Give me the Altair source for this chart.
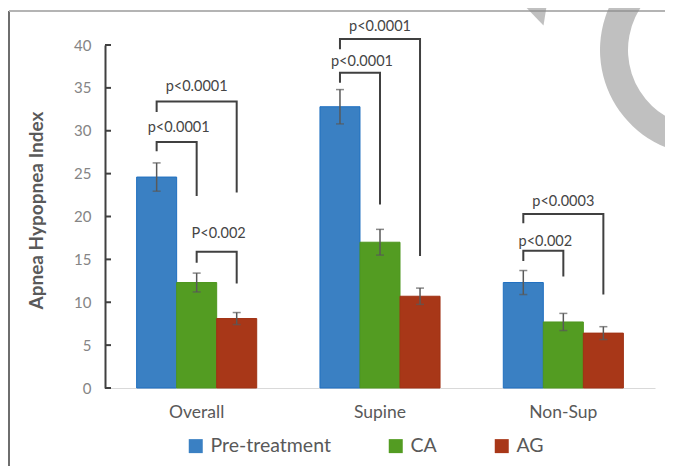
import altair as alt
import pandas as pd

# ---------------- data ----------------
categories = ["Overall", "Supine", "Non-Sup"]
series = ["Pre-treatment", "CA", "AG"]
colors = ["#3A80C3", "#539C22", "#A83718"]
edge_colors = ["#1F6FC0", "#4E961E", "#A03214"]

overall_mean = [24.6, 12.3, 8.1]
supine_mean = [32.8, 17.0, 10.7]
nonsup_mean = [12.3, 7.7, 6.4]

overall_err = [1.65, 1.1, 0.7]
supine_err = [2.0, 1.5, 0.95]
nonsup_err = [1.4, 1.0, 0.75]

y_ticks = [0, 5, 10, 15, 20, 25, 30, 35, 40]

# significance brackets
br_cat = ["Overall", "Overall", "Overall", "Supine", "Supine", "Non-Sup", "Non-Sup"]
br_left = ["Pre-treatment", "Pre-treatment", "CA", "Pre-treatment", "Pre-treatment",
           "Pre-treatment", "Pre-treatment"]
br_right = ["AG", "CA", "AG", "AG", "CA", "AG", "CA"]
br_top = [33.4, 28.7, 15.9, 40.7, 36.75, 20.3, 16.0]
br_left_end = [32.2, 27.6, 14.6, 39.5, 35.6, 19.2, 14.8]
br_right_end = [22.8, 22.4, 12.2, 15.4, 21.4, 10.9, 13.0]
br_label = ["p<0.0001", "p<0.0001", "P<0.002", "p<0.0001", "p<0.0001", "p<0.0003", "p<0.002"]
br_label_y = [35.1, 30.3, 18.0, 42.1, 37.96, 21.7, 17.05]

# ---------------- tables ----------------
means = [overall_mean, supine_mean, nonsup_mean]
errs = [overall_err, supine_err, nonsup_err]
rows = []
for ci, c in enumerate(categories):
    for si, s in enumerate(series):
        m, e = means[ci][si], errs[ci][si]
        rows.append({"category": c, "series": s, "value": m, "lo": m - e, "hi": m + e})
bars_df = pd.DataFrame(rows)

line_rows, text_rows = [], []
for i in range(len(br_cat)):
    pts = [(br_left[i], br_left_end[i]), (br_left[i], br_top[i]),
           (br_right[i], br_top[i]), (br_right[i], br_right_end[i])]
    for k, (s, v) in enumerate(pts):
        line_rows.append({"id": i, "k": k, "category": br_cat[i], "series": s, "value": v})
    outer = br_left[i] == "Pre-treatment" and br_right[i] == "AG"
    text_rows.append({"category": br_cat[i], "label": br_label[i], "value": br_label_y[i],
                      "anchor": "CA" if outer else br_left[i],
                      "kind": "outer" if outer else "adjacent"})
lines_df = pd.DataFrame(line_rows)
text_df = pd.DataFrame(text_rows)
ticks_df = pd.DataFrame({"t": y_ticks})
one = pd.DataFrame({"a": [0]})

FONT = "Lato"
GRAY = "#595959"

x_enc = alt.X("category:N", sort=categories,
              scale=alt.Scale(paddingInner=0.345, paddingOuter=0.1725),
              axis=alt.Axis(title=None, labelAngle=0, ticks=False, domainColor="#D9D9D9",
                            domainWidth=1.2, labelFont=FONT, labelFontSize=17.5,
                            labelColor=GRAY, labelPadding=15))
y_scale = alt.Scale(domain=[0, 40])
y_enc = alt.Y("value:Q", scale=y_scale,
              axis=alt.Axis(values=y_ticks, grid=False, tickSize=0, domainColor="#404040",
                            domainWidth=2, labelFont=FONT, labelFontSize=15,
                            labelColor="#858585", labelPadding=14,
                            title="Apnea Hypopnea Index", titleFont=FONT, titleFontSize=19,
                            titleFontWeight="bold", titleColor=GRAY, titleX=-69, titleY=165,
                            titleAngle=-90, titleBaseline="middle"))
xoff = alt.XOffset("series:N", sort=series, scale=alt.Scale(domain=series))
xoff_anchor = alt.XOffset("anchor:N", sort=series, scale=alt.Scale(domain=series))

# decorations (frame of the page and grey watermark)
frame_left = alt.Chart(one).mark_rule(color="#6E6E6E", strokeWidth=2).encode(
    x=alt.value(-96), y=alt.value(-34), y2=alt.value(440))
frame_top = alt.Chart(one).mark_rule(color="#B4B4B4", strokeWidth=2).encode(
    x=alt.value(-96), x2=alt.value(600), y=alt.value(-34))
ring = alt.Chart(one).mark_arc(radius=105, radius2=77, theta=2.9, theta2=6.9,
                               color="#8C8C8C", opacity=0.55).encode(
    x=alt.value(600), y=alt.value(5))
wedge = alt.Chart(one).mark_point(shape="M-1.7,-1.6 L1.1,-1.6 L0.7,0.9 Z", size=900,
                                  filled=True, color="#8C8C8C", opacity=0.55,
                                  strokeWidth=0).encode(
    x=alt.value(428), y=alt.value(-33))

bars = alt.Chart(bars_df).mark_bar(strokeWidth=1).encode(
    x=x_enc, xOffset=xoff, y=y_enc,
    fill=alt.Fill("series:N", sort=series,
                  scale=alt.Scale(domain=series, range=colors),
                  legend=alt.Legend(title=None, orient="none", legendX=81, legendY=391,
                                    direction="horizontal", columns=3, symbolType="square",
                                    symbolSize=196, symbolStrokeWidth=0, labelFont=FONT,
                                    labelFontSize=19.5, labelColor=GRAY, labelOffset=5,
                                    columnPadding=55, padding=0)),
    stroke=alt.Stroke("series:N", sort=series,
                      scale=alt.Scale(domain=series, range=edge_colors), legend=None),
)

err_rule = alt.Chart(bars_df).mark_rule(color=GRAY, strokeWidth=1.5).encode(
    x=alt.X("category:N", sort=categories), xOffset=xoff,
    y=alt.Y("lo:Q", scale=y_scale), y2="hi:Q")
cap_lo = alt.Chart(bars_df).mark_tick(color=GRAY, thickness=1.5, size=8).encode(
    x=alt.X("category:N", sort=categories), xOffset=xoff, y=alt.Y("lo:Q", scale=y_scale))
cap_hi = alt.Chart(bars_df).mark_tick(color=GRAY, thickness=1.5, size=8).encode(
    x=alt.X("category:N", sort=categories), xOffset=xoff, y=alt.Y("hi:Q", scale=y_scale))

y_tick_marks = alt.Chart(ticks_df).mark_rule(color="#404040", strokeWidth=2).encode(
    y=alt.Y("t:Q", scale=y_scale), x=alt.value(0), x2=alt.value(6))

brackets = alt.Chart(lines_df).mark_line(color="#404040", strokeWidth=2,
                                         strokeJoin="miter").encode(
    x=alt.X("category:N", sort=categories), xOffset=xoff,
    y=alt.Y("value:Q", scale=y_scale), detail="id:N", order="k:Q")

txt_outer = alt.Chart(text_df).transform_filter(alt.datum.kind == "outer").mark_text(
    font=FONT, fontSize=14.5, color="#454545", baseline="middle", align="center").encode(
    x=alt.X("category:N", sort=categories), xOffset=xoff_anchor,
    y=alt.Y("value:Q", scale=y_scale), text="label:N")
txt_adj = alt.Chart(text_df).transform_filter(alt.datum.kind == "adjacent").mark_text(
    font=FONT, fontSize=14.5, color="#454545", baseline="middle", align="center",
    dx=22).encode(
    x=alt.X("category:N", sort=categories), xOffset=xoff_anchor,
    y=alt.Y("value:Q", scale=y_scale), text="label:N")

chart = alt.layer(
    frame_left, frame_top, bars, err_rule, cap_lo, cap_hi, y_tick_marks, brackets,
    txt_outer, txt_adj, ring, wedge
).resolve_scale(fill="independent", stroke="independent").properties(
    width=550, height=343, autosize="none",
    padding={"left": 97, "top": 37, "right": 10, "bottom": 78},
    background="white",
).configure_view(stroke=None)

chart.save("out.html", embed_options={"renderer": "svg", "actions": False})
